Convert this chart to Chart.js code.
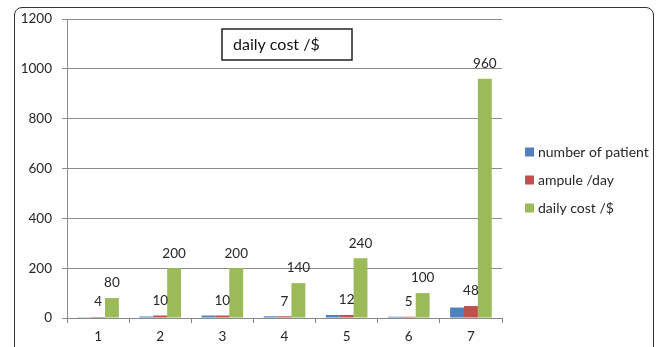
<!DOCTYPE html>
<html>
<head>
<meta charset="utf-8">
<script src="https://cdn.jsdelivr.net/npm/chart.js@4.4.1/dist/chart.umd.min.js"></script>
<style>
  html, body { margin: 0; padding: 0; background: #ffffff; }
  #wrap { position: relative; width: 662px; height: 347px; overflow: hidden; }
  #frame {
    position: absolute; left: 14px; top: 7px; width: 640px; height: 360px;
    border: 1.5px solid #333; border-radius: 8px; box-sizing: border-box;
  }
  canvas { position: absolute; left: 0; top: 0; }
</style>
</head>
<body>
<div id="wrap">
  <div id="frame"></div>
  <canvas id="chart" width="662" height="347"></canvas>
</div>
<script>
// Categories and series
const categories = ['1', '2', '3', '4', '5', '6', '7'];
const patients = [3, 6, 10, 7, 12, 5, 42];
const ampulesPerDay = [4, 10, 10, 7, 12, 5, 48];
const dailyCost = [80, 200, 200, 140, 240, 100, 960];
const seriesNames = ['number of patient', 'ampule /day', 'daily cost /$'];
const yTicks = [0, 200, 400, 600, 800, 1000, 1200];
const boxTitle = 'daily cost /$';

const FONT = 'Lato, "Noto Sans", sans-serif';
const TEXT = '#262626';

// Value labels above the red and green bars
const valueLabels = {
  id: 'valueLabels',
  afterDatasetsDraw(chart) {
    const ctx = chart.ctx;
    ctx.save();
    ctx.font = '13.5px ' + FONT;
    ctx.fillStyle = TEXT;
    ctx.textAlign = 'center';
    ctx.textBaseline = 'middle';
    chart.data.datasets.forEach((ds, i) => {
      if (!ds.showValues) return;
      chart.getDatasetMeta(i).data.forEach((el, j) => {
        ctx.fillText(String(ds.data[j]), el.x, el.y - 15);
      });
    });
    ctx.restore();
  }
};

// Boxed caption inside the plot and the legend at the right
const extras = {
  id: 'extras',
  afterDraw(chart) {
    const ctx = chart.ctx;
    ctx.save();
    // caption box
    ctx.strokeStyle = '#222';
    ctx.lineWidth = 1.5;
    ctx.fillStyle = '#fff';
    ctx.fillRect(222, 29, 130, 31);
    ctx.strokeRect(222, 29, 130, 31);
    ctx.fillStyle = '#111';
    ctx.font = '16px ' + FONT;
    ctx.textAlign = 'left';
    ctx.textBaseline = 'middle';
    ctx.fillText(boxTitle, 233, 45);
    // legend
    ctx.font = '14px ' + FONT;
    const ys = [152, 180, 208];
    chart.data.datasets.forEach((ds, i) => {
      ctx.fillStyle = ds.backgroundColor;
      ctx.fillRect(525, ys[i] - 4.5, 9, 9);
      ctx.fillStyle = TEXT;
      ctx.fillText(ds.label, 538, ys[i]);
    });
    ctx.restore();
  }
};

new Chart(document.getElementById('chart'), {
  type: 'bar',
  data: {
    labels: categories,
    datasets: [
      { label: seriesNames[0], data: patients, backgroundColor: '#4F81BD', showValues: false },
      { label: seriesNames[1], data: ampulesPerDay, backgroundColor: '#C0504D', showValues: true },
      { label: seriesNames[2], data: dailyCost, backgroundColor: '#9BBB59', showValues: true }
    ]
  },
  options: {
    responsive: false,
    animation: false,
    layout: { padding: { top: 19, right: 160, bottom: 0, left: 0 } },
    datasets: { bar: { categoryPercentage: 0.67, barPercentage: 1.0 } },
    plugins: { legend: { display: false }, tooltip: { enabled: false } },
    scales: {
      x: {
        grid: { drawOnChartArea: false, offset: true, tickLength: 5, color: '#888' },
        border: { color: '#888' },
        ticks: { color: TEXT, font: { family: FONT, size: 13.5 }, padding: 6 },
        afterFit(s) { s.height = 29; }
      },
      y: {
        min: 0, max: 1200,
        afterBuildTicks(s) { s.ticks = yTicks.map(v => ({ value: v })); },
        grid: { color: '#8c8c8c', tickLength: 5 },
        border: { color: '#8c8c8c' },
        ticks: {
          color: TEXT, font: { family: FONT, size: 13.5 }, padding: 10,
          callback: v => String(v)
        },
        afterFit(s) { s.width = 67; }
      }
    }
  },
  plugins: [valueLabels, extras]
});
</script>
</body>
</html>
